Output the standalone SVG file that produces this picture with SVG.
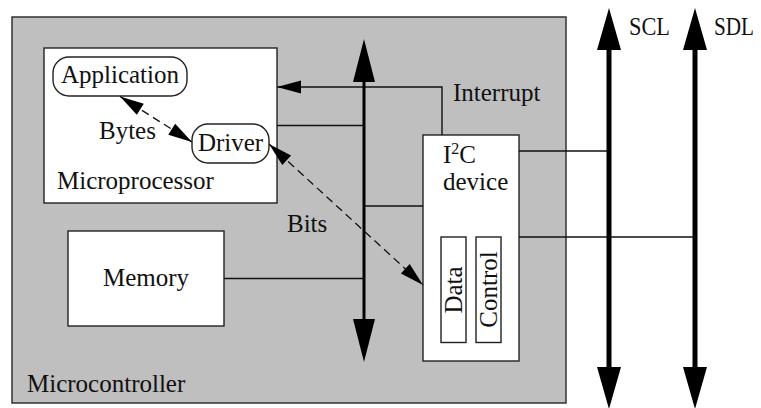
<svg xmlns="http://www.w3.org/2000/svg" width="761" height="408" viewBox="0 0 761 408">
<style>
text{font-family:"Liberation Serif","Times New Roman",serif;font-size:25px;fill:#111}
.box{fill:#fff;stroke:#222;stroke-width:1.4}
.ln{fill:none;stroke:#111;stroke-width:1.4}
.dash{fill:none;stroke:#111;stroke-width:1.3;stroke-dasharray:8 5}
.bus{fill:none;stroke:#000;stroke-width:3;marker-start:url(#bigA);marker-end:url(#bigA)}
.ibus{fill:none;stroke:#000;stroke-width:5;marker-start:url(#bigB);marker-end:url(#bigB)}
</style>
<defs>
<marker id="bigA" markerUnits="userSpaceOnUse" viewBox="0 -12 44 24" refX="0" refY="0" markerWidth="44" markerHeight="24" orient="auto-start-reverse" overflow="visible">
<path d="M0,-11 L43,0 L0,11 z" fill="#000"/>
</marker>
<marker id="bigB" markerUnits="userSpaceOnUse" viewBox="0 -13 44 26" refX="0" refY="0" markerWidth="44" markerHeight="26" orient="auto-start-reverse" overflow="visible">
<path d="M0,-12 L42,0 L0,12 z" fill="#000"/>
</marker>
<marker id="sm" markerUnits="userSpaceOnUse" viewBox="0 -7 24 14" refX="24" refY="0" markerWidth="24" markerHeight="14" orient="auto-start-reverse" overflow="visible">
<path d="M0,-6.5 L24,0 L0,6.5 z" fill="#000"/>
</marker>
</defs>

<g id="microcontroller">
<rect x="12" y="17" width="554" height="386" fill="#bfbfbf" stroke="#333" stroke-width="1.5"/>
<text x="27" y="392">Microcontroller</text>
</g>

<g id="microprocessor">
<rect class="box" x="44" y="48" width="233" height="155"/>
<text x="57" y="189">Microprocessor</text>
</g>
<g id="application">
<rect class="box" x="53" y="57" width="134" height="39" rx="16" ry="16"/>
<text x="120" y="83" text-anchor="middle">Application</text>
</g>
<g id="driver">
<rect class="box" x="192" y="124" width="77" height="39" rx="16" ry="16"/>
<text x="230.5" y="151" text-anchor="middle">Driver</text>
</g>
<g id="memory">
<rect class="box" x="68" y="231" width="156" height="95"/>
<text x="146" y="286" text-anchor="middle">Memory</text>
</g>
<g id="i2c">
<rect class="box" x="423" y="135" width="96" height="226"/>
<text x="443" y="163">I<tspan font-size="16" dy="-9">2</tspan><tspan dy="9">C</tspan></text>
<text x="443" y="190">device</text>
</g>
<g id="data">
<rect class="box" x="441" y="237" width="25" height="105.5"/>
<text transform="translate(461.5,290) rotate(-90)" text-anchor="middle">Data</text>
</g>
<g id="control">
<rect class="box" x="476" y="237" width="25" height="105.5"/>
<text transform="translate(496.5,289.5) rotate(-90)" text-anchor="middle">Control</text>
</g>

<g id="connectors">
<path class="ln" d="M442,135 V87 H277" marker-end="url(#sm)"/>
<path class="ln" d="M277,125.5 H364"/>
<path class="ln" d="M364,206 H423"/>
<path class="ln" d="M224,278.5 H364"/>
<path class="ln" d="M519,151 H609"/>
<path class="ln" d="M519,237 H695"/>
<path class="bus" d="M364,82 V319"/>
<path class="ibus" d="M609,50 V367"/>
<path class="ibus" d="M695,50 V367"/>
<path class="dash" d="M120,96.5 L192,142" marker-start="url(#sm)" marker-end="url(#sm)"/>
<path class="dash" d="M269,144 L423,285" marker-start="url(#sm)" marker-end="url(#sm)"/>
</g>

<g id="labels">
<text x="99" y="139">Bytes</text>
<text x="287" y="231.5">Bits</text>
<text x="453" y="100.5">Interrupt</text>
<text x="629" y="35" textLength="41" lengthAdjust="spacingAndGlyphs">SCL</text>
<text x="714" y="35" textLength="40" lengthAdjust="spacingAndGlyphs">SDL</text>
</g>
</svg>
